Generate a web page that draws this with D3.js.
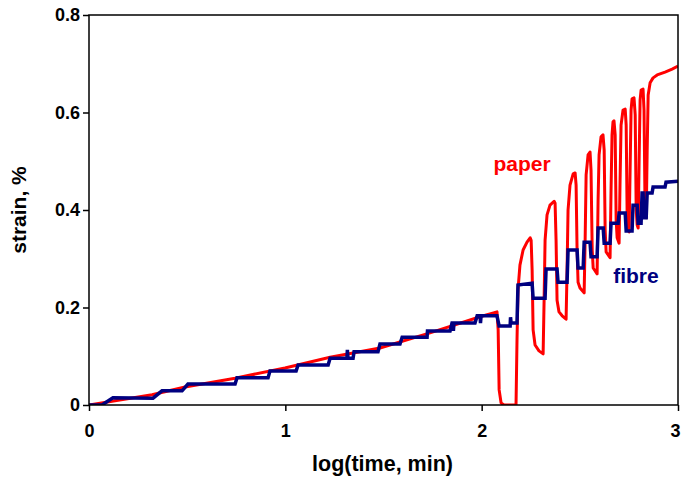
<!DOCTYPE html>
<html>
  <head>
    <meta charset="utf-8">
    <title>strain vs log time</title>
    <script src="https://d3js.org/d3.v7.min.js"></script>
    <style>
      body { margin: 0; background: #fff; }
      svg { display: block; font-family: 'Liberation Sans', Arial, sans-serif; }
      .axis text { font-size: 18px; font-weight: bold; fill: #000; }
      .axis path, .axis line { stroke: #000; stroke-width: 1.5; }
      .lbl { font-size: 21px; font-weight: bold; }
    </style>
  </head>
  <body>
    <svg id="svg"></svg>
    <script>
// log(time, min) / strain %
var paperT = [0, 0.321, 0.489, 0.744, 0.998, 1.228, 1.482, 1.737, 1.992, 2.078,
  2.084, 2.089, 2.099, 2.114, 2.175,
  2.180, 2.185, 2.195, 2.211, 2.231, 2.247, 2.252, 2.257, 2.262, 2.272, 2.292, 2.313,
  2.318, 2.323, 2.333, 2.348, 2.369, 2.374, 2.379, 2.384, 2.394, 2.410, 2.430,
  2.435, 2.440, 2.450, 2.466, 2.476, 2.481, 2.486, 2.491, 2.501, 2.522,
  2.527, 2.532, 2.542, 2.552, 2.557, 2.563, 2.568, 2.588,
  2.593, 2.598, 2.608, 2.618, 2.624, 2.629, 2.634, 2.654,
  2.659, 2.664, 2.669, 2.674, 2.680, 2.685, 2.690, 2.700,
  2.705, 2.710, 2.720, 2.731, 2.736, 2.741, 2.746, 2.751,
  2.756, 2.761, 2.766, 2.776, 2.782, 2.787, 2.792, 2.797,
  2.802, 2.807, 2.812, 2.822, 2.827, 2.832, 2.838,
  2.843, 2.848, 2.858, 2.873, 2.894, 2.934, 2.970, 3.0];
var paperS = [0, 0.021, 0.037, 0.055, 0.076, 0.098, 0.117, 0.148, 0.181, 0.191,
  0.154, 0.031, 0.004, 0, 0,
  0.133, 0.236, 0.287, 0.318, 0.334, 0.343, 0.338, 0.277, 0.154, 0.123, 0.111, 0.105,
  0.215, 0.338, 0.390, 0.410, 0.418, 0.414, 0.338, 0.215, 0.191, 0.183, 0.176,
  0.277, 0.400, 0.451, 0.474, 0.476, 0.451, 0.318, 0.252, 0.240, 0.230,
  0.338, 0.472, 0.513, 0.519, 0.482, 0.318, 0.281, 0.269,
  0.421, 0.513, 0.550, 0.554, 0.523, 0.359, 0.314, 0.302,
  0.441, 0.554, 0.581, 0.583, 0.554, 0.379, 0.343, 0.332,
  0.462, 0.574, 0.605, 0.607, 0.574, 0.390, 0.363, 0.355,
  0.482, 0.605, 0.628, 0.630, 0.595, 0.400, 0.369, 0.363,
  0.503, 0.626, 0.646, 0.648, 0.605, 0.410, 0.384,
  0.523, 0.636, 0.661, 0.671, 0.677, 0.683, 0.689, 0.695];

var fibreT = [0, 0.066, 0.122, 0.326, 0.372, 0.474, 0.504, 0.744, 0.754, 0.912, 0.922,
  1.055, 1.065, 1.218, 1.228, 1.314, 1.316, 1.319, 1.345, 1.350, 1.472, 1.482,
  1.584, 1.595, 1.722, 1.724, 1.727, 1.839, 1.849, 1.854, 1.856, 1.859,
  1.966, 1.977, 1.992, 1.994, 1.997, 2.078, 2.089, 2.145, 2.147, 2.150, 2.180, 2.185,
  2.257, 2.262, 2.323, 2.328, 2.384, 2.389, 2.435, 2.440, 2.486, 2.491, 2.517, 2.522,
  2.552, 2.557, 2.588, 2.593, 2.619, 2.624, 2.654, 2.659, 2.695, 2.700, 2.731, 2.736,
  2.766, 2.771, 2.792, 2.797, 2.812, 2.817, 2.822, 2.827, 2.838, 2.843,
  2.868, 2.873, 2.934, 2.939, 3.0];
var fibreS = [0, 0, 0.015, 0.014, 0.029, 0.029, 0.043, 0.043, 0.056, 0.056, 0.070,
  0.070, 0.082, 0.082, 0.096, 0.096, 0.113, 0.096, 0.096, 0.109, 0.109, 0.125,
  0.125, 0.139, 0.139, 0.152, 0.152, 0.152, 0.168, 0.168, 0.152, 0.168,
  0.168, 0.183, 0.183, 0.168, 0.183, 0.183, 0.162, 0.162, 0.180, 0.168, 0.168, 0.246,
  0.250, 0.219, 0.219, 0.279, 0.279, 0.252, 0.252, 0.318, 0.318, 0.281, 0.281, 0.334,
  0.334, 0.304, 0.304, 0.363, 0.363, 0.332, 0.332, 0.373, 0.373, 0.394, 0.394, 0.357,
  0.357, 0.410, 0.410, 0.373, 0.373, 0.435, 0.435, 0.384, 0.384, 0.435,
  0.435, 0.447, 0.447, 0.457, 0.459];

var xTicks = [0, 1, 2, 3];
var yTicks = [0, 0.2, 0.4, 0.6, 0.8];

var W = 681, H = 477;
var margin = {top: 15, right: 3, bottom: 72, left: 89};
var w = W - margin.left - margin.right, h = H - margin.top - margin.bottom;

var svg = d3.select('#svg').attr('width', W).attr('height', H);
var g = svg.append('g').attr('transform', 'translate(' + margin.left + ',' + margin.top + ')');

var x = d3.scaleLinear().domain([0, 3]).range([0, w]);
var y = d3.scaleLinear().domain([0, 0.8]).range([h, 0]);

g.append('clipPath').attr('id', 'clip')
  .append('rect').attr('x', 0).attr('y', -2).attr('width', w).attr('height', h + 2);

var line = d3.line().x(function(d) { return x(d[0]); }).y(function(d) { return y(d[1]); });

var paper = paperT.map(function(t, i) { return [t, paperS[i]]; });
var fibre = fibreT.map(function(t, i) { return [t, fibreS[i]]; });

g.append('path').datum(paper)
  .attr('clip-path', 'url(#clip)')
  .attr('d', line)
  .attr('fill', 'none').attr('stroke', '#ff0000').attr('stroke-width', 3)
  .attr('stroke-linejoin', 'round');

g.append('path').datum(fibre)
  .attr('clip-path', 'url(#clip)')
  .attr('d', line)
  .attr('fill', 'none').attr('stroke', '#000080').attr('stroke-width', 3.5)
  .attr('stroke-linejoin', 'miter');

// frame
g.append('rect').attr('width', w).attr('height', h)
  .attr('fill', 'none').attr('stroke', '#000').attr('stroke-width', 1.5);

var xAxis = g.append('g').attr('class', 'axis')
  .attr('transform', 'translate(0,' + h + ')')
  .call(d3.axisBottom(x).tickValues(xTicks).tickFormat(d3.format('d')).tickSizeOuter(0).tickSize(6).tickPadding(13));
// last label sits on the window edge, nudge it in
xAxis.selectAll('.tick text').filter(function(d) { return d === 3; }).attr('dx', -3);

g.append('g').attr('class', 'axis')
  .call(d3.axisLeft(y).tickValues(yTicks).tickFormat(function(d) { return d === 0 ? '0' : d3.format('.1f')(d); })
    .tickSizeOuter(0).tickSize(6).tickPadding(3));

g.selectAll('.axis .domain').remove();

svg.append('text').attr('class', 'lbl')
  .style('font-size', '21.5px')
  .attr('x', margin.left + w / 2 - 1).attr('y', 471)
  .attr('text-anchor', 'middle').text('log(time, min)');

svg.append('text').attr('class', 'lbl')
  .attr('transform', 'translate(26,' + (margin.top + h / 2) + ') rotate(-90)')
  .attr('text-anchor', 'middle').text('strain, %');

g.append('text').attr('class', 'lbl').attr('fill', '#ff0000')
  .attr('x', x(2.06)).attr('y', y(0.48)).text('paper');

g.append('text').attr('class', 'lbl').attr('fill', '#000080')
  .attr('x', x(2.67)).attr('y', y(0.25)).text('fibre');
    </script>
  </body>
</html>
